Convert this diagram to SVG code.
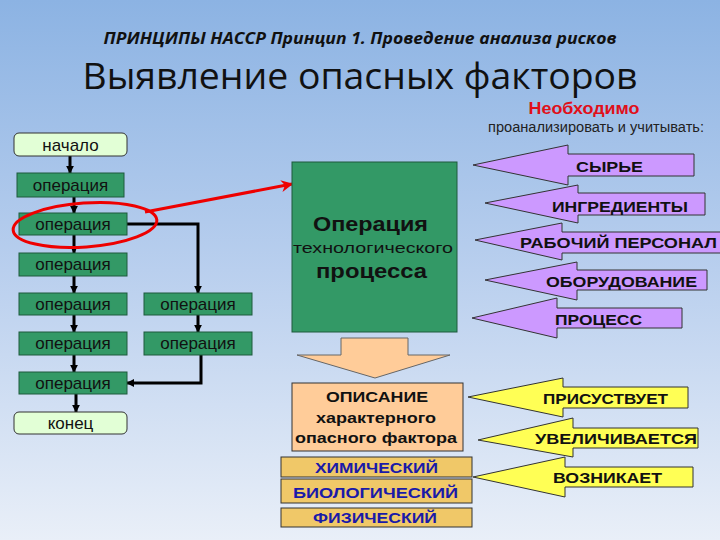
<svg xmlns="http://www.w3.org/2000/svg" width="720" height="540" viewBox="0 0 720 540">
<defs>
<linearGradient id="bg" x1="0" y1="0" x2="0" y2="1">
<stop offset="0" stop-color="#8cb3e3"/>
<stop offset="0.5" stop-color="#b9cfee"/>
<stop offset="1" stop-color="#e9eff8"/>
</linearGradient>
<marker id="ah" viewBox="0 0 10 10" refX="9" refY="5" markerWidth="8" markerHeight="8" markerUnits="userSpaceOnUse" orient="auto">
<path d="M0,0 L10,5 L0,10 z" fill="#000"/>
</marker>
<marker id="ahr" viewBox="0 0 10 10" refX="9" refY="5" markerWidth="16" markerHeight="12" markerUnits="userSpaceOnUse" orient="auto">
<path d="M0,0 L10,5 L0,10 L3,5 z" fill="#ee0000"/>
</marker>
</defs>
<style>
.op{fill:#339966;stroke:#1e5a3c;stroke-width:1}
.term{fill:#e2ffd6;stroke:#333;stroke-width:1}
.opt{font-family:"Liberation Sans",Arial,sans-serif;font-size:17px;fill:#111;text-anchor:middle}
.pur{fill:#cc99ff;stroke:#333;stroke-width:1}
.yel{fill:#ffff55;stroke:#333;stroke-width:1}
.at{font-family:"Liberation Sans",Arial,sans-serif;font-size:15px;font-weight:bold;fill:#111;text-anchor:middle}
.tan{fill:#f0c868;stroke:#333;stroke-width:1}
.bt{font-family:"Liberation Sans",Arial,sans-serif;font-size:15px;font-weight:bold;fill:#1a1aa8;text-anchor:middle}
.ln{fill:none;stroke:#000;stroke-width:3}
</style>
<rect x="0" y="0" width="720" height="540" fill="url(#bg)"/>

<g id="title">
<text x="360" y="44" font-family="'Open Sans','Noto Sans',sans-serif" font-size="15.5" font-weight="bold" font-style="italic" fill="#111" text-anchor="middle" textLength="513" lengthAdjust="spacingAndGlyphs">ПРИНЦИПЫ НАССР Принцип 1. Проведение анализа рисков</text>
<text x="360" y="89" font-family="'Open Sans','Noto Sans',sans-serif" font-size="36" fill="#111" text-anchor="middle" textLength="555" lengthAdjust="spacingAndGlyphs">Выявление опасных факторов</text>
<text x="584" y="114" font-family="'Liberation Sans',Arial,sans-serif" font-size="16" font-weight="bold" fill="#e0101a" text-anchor="middle" textLength="111" lengthAdjust="spacingAndGlyphs">Необходимо</text>
<text x="596" y="132" font-family="'Liberation Sans',Arial,sans-serif" font-size="14" fill="#222" text-anchor="middle" textLength="216" lengthAdjust="spacingAndGlyphs">проанализировать и учитывать:</text>
</g>

<g id="connectors">
<line class="ln" x1="70" y1="156" x2="70" y2="173" marker-end="url(#ah)"/>
<line class="ln" x1="74" y1="197" x2="74" y2="213" marker-end="url(#ah)"/>
<line class="ln" x1="74" y1="235" x2="74" y2="253" marker-end="url(#ah)"/>
<line class="ln" x1="74" y1="276" x2="74" y2="293" marker-end="url(#ah)"/>
<line class="ln" x1="74" y1="315" x2="74" y2="332" marker-end="url(#ah)"/>
<line class="ln" x1="74" y1="355" x2="74" y2="372" marker-end="url(#ah)"/>
<line class="ln" x1="76" y1="394" x2="76" y2="412" marker-end="url(#ah)"/>
<polyline class="ln" points="127,224 198,224 198,293" marker-end="url(#ah)"/>
<line class="ln" x1="198" y1="315" x2="198" y2="332" marker-end="url(#ah)"/>
<polyline class="ln" points="201,355 201,383 127,383" marker-end="url(#ah)"/>
<line x1="145" y1="212" x2="292" y2="184" stroke="#ee0000" stroke-width="3" marker-end="url(#ahr)"/>
<polygon points="341,338 408,338 408,355 450,355 375,378 297,355 341,355" fill="#ffcc99" stroke="#666" stroke-width="1"/>
</g>

<g id="n-start"><rect class="term" x="14" y="133" width="113" height="23" rx="5"/><text class="opt" x="70.5" y="151">начало</text></g>
<g id="n-op1"><rect class="op" x="17" y="173" width="107" height="24"/><text class="opt" x="70.5" y="191">операция</text></g>
<g id="n-op2"><rect class="op" x="19" y="213" width="108" height="22"/><text class="opt" x="73" y="230">операция</text></g>
<g id="n-op3"><rect class="op" x="19" y="253" width="108" height="23"/><text class="opt" x="73" y="270">операция</text></g>
<g id="n-op4"><rect class="op" x="19" y="293" width="108" height="22"/><text class="opt" x="73" y="310">операция</text></g>
<g id="n-op5"><rect class="op" x="19" y="332" width="108" height="23"/><text class="opt" x="73" y="349">операция</text></g>
<g id="n-op6"><rect class="op" x="19" y="372" width="108" height="22"/><text class="opt" x="73" y="389">операция</text></g>
<g id="n-end"><rect class="term" x="14" y="412" width="113" height="22" rx="5"/><text class="opt" x="70.5" y="429">конец</text></g>
<g id="n-op4r"><rect class="op" x="144" y="293" width="108" height="22"/><text class="opt" x="198" y="310">операция</text></g>
<g id="n-op5r"><rect class="op" x="144" y="332" width="108" height="23"/><text class="opt" x="198" y="349">операция</text></g>

<g id="highlight"><ellipse cx="85" cy="225" rx="72" ry="22" fill="none" stroke="#ee0000" stroke-width="3" transform="rotate(-4 85 225)"/></g>

<g id="n-process">
<rect class="op" x="292" y="162" width="165" height="170"/>
<text x="370.5" y="231" font-family="'Liberation Sans',Arial,sans-serif" font-size="21" font-weight="bold" fill="#111" text-anchor="middle" textLength="115" lengthAdjust="spacingAndGlyphs">Операция</text>
<text x="373" y="253" font-family="'Liberation Sans',Arial,sans-serif" font-size="14" fill="#111" text-anchor="middle" textLength="160" lengthAdjust="spacingAndGlyphs">технологического</text>
<text x="371.5" y="278" font-family="'Liberation Sans',Arial,sans-serif" font-size="21" font-weight="bold" fill="#111" text-anchor="middle" textLength="111" lengthAdjust="spacingAndGlyphs">процесса</text>
</g>

<g id="a-raw"><polygon class="pur" points="473,165 568,145 568,154 694,154 694,176 568,176 568,185"/><text class="at" x="609.5" y="172" textLength="67" lengthAdjust="spacingAndGlyphs">СЫРЬЕ</text></g>
<g id="a-ingr"><polygon class="pur" points="485,203 578,185 578,193 705,193 705,215 578,215 578,223"/><text class="at" x="620" y="212" textLength="136" lengthAdjust="spacingAndGlyphs">ИНГРЕДИЕНТЫ</text></g>
<g id="a-staff"><polygon class="pur" points="475,240 562,223 562,232 730,232 730,253 562,253 562,260"/><text class="at" x="618.5" y="248" textLength="197" lengthAdjust="spacingAndGlyphs">РАБОЧИЙ ПЕРСОНАЛ</text></g>
<g id="a-equip"><polygon class="pur" points="485,280 577,262 577,270 707,270 707,290 577,290 577,300"/><text class="at" x="621.5" y="287" textLength="151" lengthAdjust="spacingAndGlyphs">ОБОРУДОВАНИЕ</text></g>
<g id="a-proc"><polygon class="pur" points="472,318 557,298 557,308 682,308 682,328 557,328 557,338"/><text class="at" x="598.5" y="325" textLength="87" lengthAdjust="spacingAndGlyphs">ПРОЦЕСС</text></g>

<g id="n-descr">
<rect x="292" y="383" width="171" height="68" fill="#ffcc99" stroke="#333" stroke-width="1"/>
<text class="at" x="377" y="402" textLength="102" lengthAdjust="spacingAndGlyphs">ОПИСАНИЕ</text>
<text class="at" x="376" y="423" textLength="120" lengthAdjust="spacingAndGlyphs">характерного</text>
<text class="at" x="376" y="443" textLength="162" lengthAdjust="spacingAndGlyphs">опасного фактора</text>
</g>

<g id="n-chem"><rect class="tan" x="281" y="457" width="191" height="20"/><text class="bt" x="376.5" y="473" textLength="123" lengthAdjust="spacingAndGlyphs">ХИМИЧЕСКИЙ</text></g>
<g id="n-bio"><rect class="tan" x="281" y="479" width="191" height="24"/><text class="bt" x="375.5" y="498" textLength="165" lengthAdjust="spacingAndGlyphs">БИОЛОГИЧЕСКИЙ</text></g>
<g id="n-phys"><rect class="tan" x="281" y="508" width="191" height="19"/><text class="bt" x="375" y="523" textLength="124" lengthAdjust="spacingAndGlyphs">ФИЗИЧЕСКИЙ</text></g>

<g id="a-present"><polygon class="yel" points="468,397 563,378 563,387 688,387 688,408 563,408 563,417"/><text class="at" x="605.5" y="404" textLength="125" lengthAdjust="spacingAndGlyphs">ПРИСУСТВУЕТ</text></g>
<g id="a-incr"><polygon class="yel" points="478,440 573,418 573,428 698,428 698,448 573,448 573,457"/><text class="at" x="616" y="444" textLength="162" lengthAdjust="spacingAndGlyphs">УВЕЛИЧИВАЕТСЯ</text></g>
<g id="a-arise"><polygon class="yel" points="473,477 565,457 565,467 693,467 693,487 565,487 565,497"/><text class="at" x="607.5" y="483" textLength="109" lengthAdjust="spacingAndGlyphs">ВОЗНИКАЕТ</text></g>
</svg>
